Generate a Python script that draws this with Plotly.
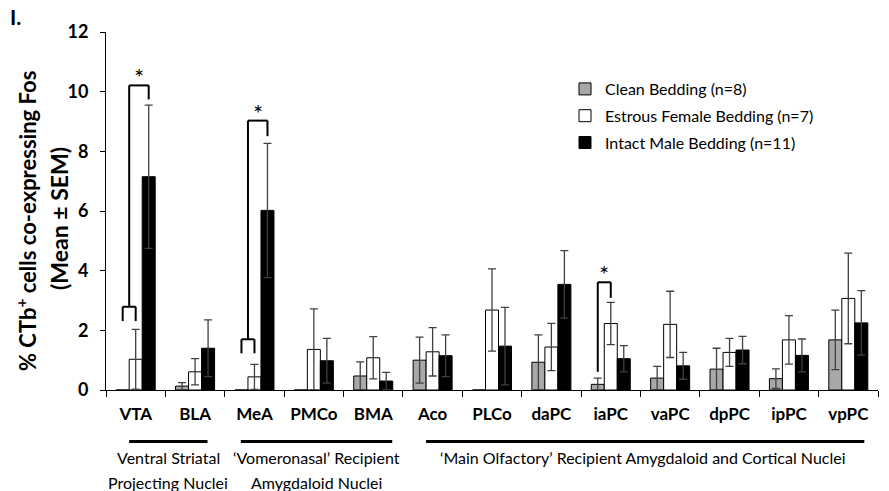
import plotly.graph_objects as go

categories = ["VTA", "BLA", "MeA", "PMCo", "BMA", "Aco", "PLCo", "daPC", "iaPC", "vaPC", "dpPC", "ipPC", "vpPC"]

clean_mean = [0.0, 0.13, 0.0, 0.0, 0.47, 1.00, 0.0, 0.93, 0.19, 0.40, 0.70, 0.38, 1.68]
clean_sem = [0.0, 0.12, 0.0, 0.0, 0.47, 0.77, 0.0, 0.92, 0.21, 0.39, 0.70, 0.33, 1.00]

estrous_mean = [1.03, 0.61, 0.44, 1.36, 1.08, 1.28, 2.68, 1.44, 2.23, 2.20, 1.26, 1.68, 3.07]
estrous_sem = [1.00, 0.44, 0.42, 1.36, 0.71, 0.81, 1.38, 0.79, 0.71, 1.11, 0.47, 0.81, 1.52]

male_mean = [7.15, 1.40, 6.02, 0.98, 0.30, 1.15, 1.47, 3.54, 1.05, 0.81, 1.34, 1.16, 2.25]
male_sem = [2.40, 0.95, 2.25, 0.75, 0.29, 0.70, 1.30, 1.13, 0.44, 0.45, 0.46, 0.55, 1.08]

series_names = ["Clean Bedding (n=8)", "Estrous Female Bedding (n=7)", "Intact Male Bedding (n=11)"]

# significance brackets
sig_categories = ["VTA", "MeA", "iaPC"]
sig_low_top = [2.79, 1.70, None]
sig_low_leg = [2.31, 1.23, None]
sig_high_top = [10.21, 9.03, 3.61]
sig_right_end = [9.74, 8.51, 3.09]
sig_left_start = [None, None, 0.61]

group_labels = [
    ("Ventral Striatal", "Projecting Nuclei"),
    ("\u2018Vomeronasal\u2019 Recipient", "Amygdaloid Nuclei"),
    ("\u2018Main Olfactory\u2019 Recipient Amygdaloid and Cortical Nuclei", None),
]
group_line_x = [(-0.11, 1.21), (1.77, 4.32), (4.89, 12.27)]
group_text_x = [0.55, 3.05, 8.55]

FONT = "Lato"
fills = ["#a8a8a8", "#ffffff", "#000000"]
means = [clean_mean, estrous_mean, male_mean]
sems = [clean_sem, estrous_sem, male_sem]

fig = go.Figure()
for i in range(3):
    fig.add_trace(go.Bar(
        x=categories, y=means[i], name=series_names[i],
        marker=dict(color=fills[i], line=dict(color="#000000", width=1)),
        error_y=dict(type="data", array=sems[i], symmetric=True, color="#404040", thickness=1.3, width=4),
        legendgroup=f"g{i}",
    ))

bw = 0.219  # bar offset in category units
shapes = []
annotations = []
for k, cat in enumerate(sig_categories):
    c = categories.index(cat)
    xl, xm, xr = c - bw, c, c + bw
    lc = dict(color="#000000", width=2)
    if sig_low_top[k] is not None:
        mid = (xl + xm) / 2
        shapes.append(dict(type="line", xref="x", yref="y", x0=xl, x1=xl, y0=sig_low_leg[k], y1=sig_low_top[k], line=lc))
        shapes.append(dict(type="line", xref="x", yref="y", x0=xm, x1=xm, y0=sig_low_leg[k], y1=sig_low_top[k], line=lc))
        shapes.append(dict(type="line", xref="x", yref="y", x0=xl, x1=xm, y0=sig_low_top[k], y1=sig_low_top[k], line=lc))
        shapes.append(dict(type="line", xref="x", yref="y", x0=mid, x1=mid, y0=sig_low_top[k], y1=sig_high_top[k], line=lc))
        shapes.append(dict(type="line", xref="x", yref="y", x0=mid, x1=xr, y0=sig_high_top[k], y1=sig_high_top[k], line=lc))
        shapes.append(dict(type="line", xref="x", yref="y", x0=xr, x1=xr, y0=sig_high_top[k], y1=sig_right_end[k], line=lc))
        ax = (mid + xr) / 2
    else:
        shapes.append(dict(type="line", xref="x", yref="y", x0=xl, x1=xl, y0=sig_left_start[k], y1=sig_high_top[k], line=lc))
        shapes.append(dict(type="line", xref="x", yref="y", x0=xl, x1=xm, y0=sig_high_top[k], y1=sig_high_top[k], line=lc))
        shapes.append(dict(type="line", xref="x", yref="y", x0=xm, x1=xm, y0=sig_high_top[k], y1=sig_right_end[k], line=lc))
        ax = (xl + xm) / 2
    annotations.append(dict(x=ax, y=sig_high_top[k], xref="x", yref="y", text="*", showarrow=False,
                            yanchor="bottom", yshift=-8, font=dict(family=FONT, size=24, color="#000")))

def py(p):
    return (390 - p) / 358.0

def px(p):
    return (p - 106) / 772.0

for k, (l1, l2) in enumerate(group_labels):
    x0, x1 = group_line_x[k]
    shapes.append(dict(type="line", xref="x", yref="paper", x0=x0, x1=x1, y0=py(441.5), y1=py(441.5),
                       line=dict(color="#000", width=3)))
    annotations.append(dict(x=group_text_x[k], y=py(458), xref="x", yref="paper", text=l1, showarrow=False,
                            font=dict(family=FONT, size=16, color="#000"), yanchor="middle"))
    if l2:
        annotations.append(dict(x=group_text_x[k], y=py(482), xref="x", yref="paper", text=l2, showarrow=False,
                                font=dict(family=FONT, size=16, color="#000"), yanchor="middle"))

annotations.append(dict(x=px(26), y=py(221), xref="paper", yref="paper",
                        text="<b>% CTb<sup>+</sup> cells co-expressing Fos</b>", textangle=-90, showarrow=False,
                        font=dict(family=FONT, size=22, color="#000"), xanchor="center", yanchor="middle"))
annotations.append(dict(x=px(59), y=py(219), xref="paper", yref="paper",
                        text="<b>(Mean \u00b1 SEM)</b>", textangle=-90, showarrow=False,
                        font=dict(family=FONT, size=23, color="#000"), xanchor="center", yanchor="middle"))
annotations.append(dict(x=px(8), y=py(16), xref="paper", yref="paper", text="<b>I.</b>",
                        showarrow=False, xanchor="left", yanchor="middle",
                        font=dict(family=FONT, size=21, color="#000")))

fig.update_layout(
    width=889, height=491,
    margin=dict(l=106, r=11, t=32, b=101),
    paper_bgcolor="white", plot_bgcolor="white",
    barmode="group", bargap=0.343, bargroupgap=0,
    font=dict(family=FONT, color="#000"),
    showlegend=True,
    legend=dict(x=px(565), y=py(72), xanchor="left", yanchor="top",
                font=dict(family=FONT, size=16, color="#000"), tracegroupgap=3,
                traceorder="grouped", bgcolor="rgba(0,0,0,0)"),
    shapes=shapes, annotations=annotations,
    xaxis=dict(type="category", showline=True, linecolor="#000", linewidth=1, ticks="outside",
               tickson="boundaries", ticklen=6, tickcolor="#000", ticklabelstandoff=9,
               tickfont=dict(family=FONT, size=17, color="#000"), showgrid=False,
               range=[-0.5, len(categories) - 0.5]),
    yaxis=dict(range=[0, 12], tickvals=[0, 2, 4, 6, 8, 10, 12], showline=True, linecolor="#000", linewidth=1,
               ticks="outside", ticklen=5, tickcolor="#000", showgrid=False, zeroline=False,
               ticklabelstandoff=8,
               tickfont=dict(family=FONT, size=18, color="#000")),
)
fig.update_xaxes(ticktext=[f"<b>{c}</b>" for c in categories], tickvals=categories)
fig.update_yaxes(ticktext=[f"<b>{v}</b>" for v in [0, 2, 4, 6, 8, 10, 12]])

fig.write_html("out.html", config={"displayModeBar": False},
               post_script="document.body.style.margin='0';")
